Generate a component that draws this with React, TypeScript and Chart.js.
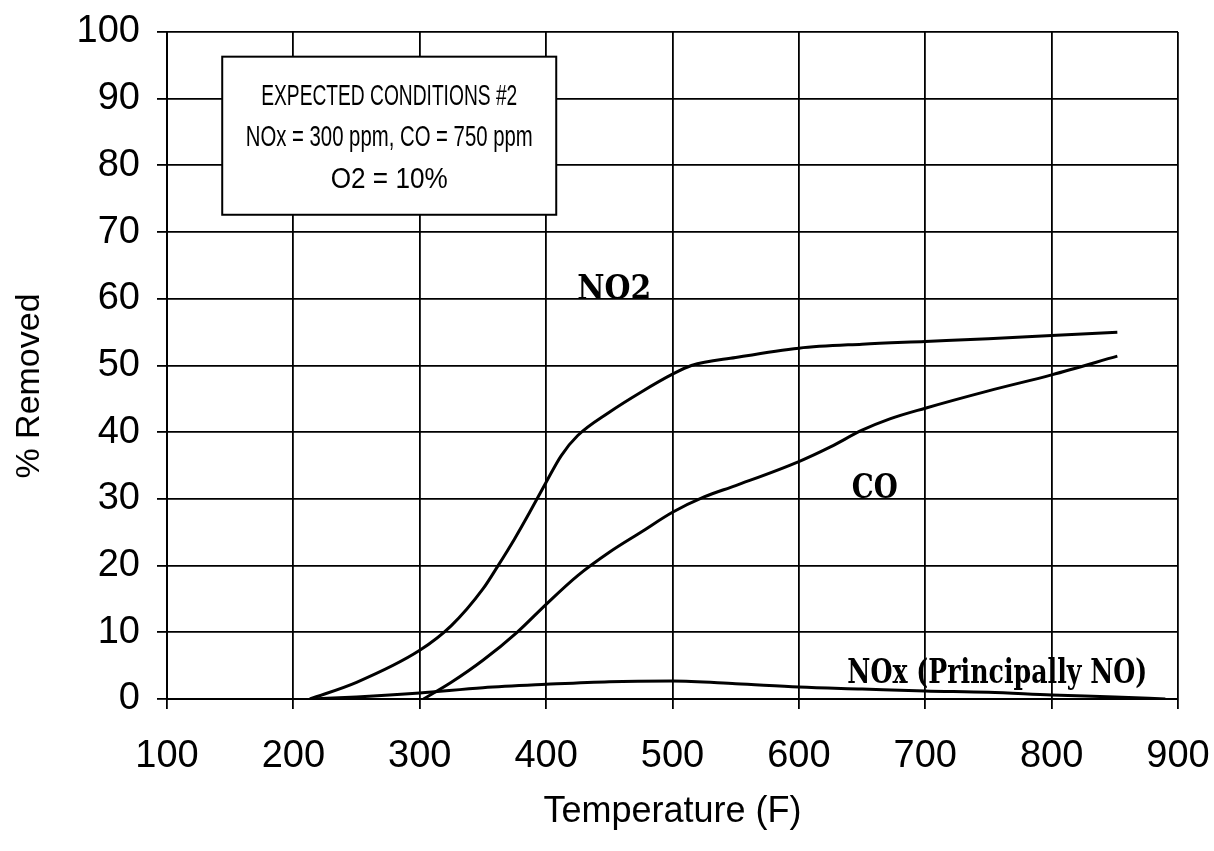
import React, { useEffect, useRef } from "react";
import { Chart, registerables } from "chart.js";

Chart.register(...registerables);

// ---- data ----
const no2Temps = [213, 250, 300, 325, 350, 362, 375, 387, 400, 412, 425, 450, 475, 500, 515, 550, 600, 650, 700, 750, 800, 852];
const no2Values = [0, 2.5, 7.3, 11, 16.5, 20, 24, 28, 32.5, 36.5, 39.5, 43, 46, 48.7, 50, 51.2, 52.6, 53.2, 53.6, 54, 54.5, 55];

const coTemps = [303, 325, 350, 377, 400, 425, 450, 475, 500, 525, 550, 600, 625, 650, 672, 700, 750, 800, 852];
const coValues = [0, 2.5, 5.8, 10, 14.2, 18.5, 22, 25, 28, 30.3, 32, 35.6, 37.8, 40.3, 42, 43.6, 46.2, 48.6, 51.4];

const noxTemps = [215, 250, 300, 350, 400, 450, 500, 550, 600, 650, 700, 750, 800, 850, 890];
const noxValues = [0, 0.3, 0.9, 1.7, 2.2, 2.6, 2.7, 2.3, 1.8, 1.5, 1.2, 1.0, 0.6, 0.3, 0];

const xTickMin = 100;
const xTickMax = 900;
const xTickStep = 100;
const yTickMin = 0;
const yTickMax = 100;
const yTickStep = 10;

const boxLines = ["EXPECTED CONDITIONS #2", "NOx = 300 ppm, CO = 750 ppm", "O2 = 10%"];
const curveLabels = ["NO2", "CO", "NOx (Principally NO)"];
const xTitle = "Temperature (F)";
const yTitle = "% Removed";

const toPoints = (xs: number[], ys: number[]) => xs.map((x, i) => ({ x, y: ys[i] }));

const SANS = "'Liberation Sans', Arial, sans-serif";
const SERIF = "'DejaVu Serif', 'Liberation Serif', serif";

const annotationPlugin = {
  id: "annotations",
  afterDatasetsDraw(chart: any) {
    const ctx = chart.ctx as CanvasRenderingContext2D;
    const xs = chart.scales.x;
    const ys = chart.scales.y;
    const px = (v: number) => xs.getPixelForValue(v);
    const py = (v: number) => ys.getPixelForValue(v);

    // condition box
    ctx.save();
    const bx1 = px(143.7), bx2 = px(408), by1 = py(96.3), by2 = py(72.6);
    ctx.fillStyle = "#fff";
    ctx.fillRect(bx1, by1, bx2 - bx1, by2 - by1);
    ctx.strokeStyle = "#000";
    ctx.lineWidth = 2;
    ctx.strokeRect(bx1, by1, bx2 - bx1, by2 - by1);
    ctx.fillStyle = "#000";
    ctx.font = `30px ${SANS}`;
    ctx.textAlign = "center";
    ctx.textBaseline = "middle";
    const cx = (bx1 + bx2) / 2;
    const lineY = [90.25, 84.1, 77.8];
    const lineW = [256, 287, 117];
    boxLines.forEach((t, i) => ctx.fillText(t, cx, py(lineY[i]), lineW[i]));

    // curve labels
    ctx.font = `bold 33px ${SERIF}`;
    ctx.textBaseline = "alphabetic";
    ctx.fillText(curveLabels[0], px(453.9), py(60), 74);
    ctx.fillText(curveLabels[1], px(660), py(30.1), 46);
    ctx.fillText(curveLabels[2], px(757), py(2.4), 300);

    // y axis title
    ctx.font = `34px ${SANS}`;
    ctx.textBaseline = "middle";
    ctx.translate(30, 386);
    ctx.rotate(-Math.PI / 2);
    ctx.fillText(yTitle, 0, 0);
    ctx.restore();
  },
};

export default function App() {
  const ref = useRef<HTMLCanvasElement | null>(null);

  useEffect(() => {
    document.body.style.margin = "0";
    if (!ref.current) return;
    const lineStyle = {
      borderColor: "#000",
      borderWidth: 3,
      pointRadius: 0,
      fill: false,
      tension: 0.4,
      cubicInterpolationMode: "monotone" as const,
    };
    const chart = new Chart(ref.current, {
      type: "line",
      data: {
        datasets: [
          { label: "NO2", data: toPoints(no2Temps, no2Values), ...lineStyle },
          { label: "CO", data: toPoints(coTemps, coValues), ...lineStyle },
          { label: "NOx", data: toPoints(noxTemps, noxValues), ...lineStyle },
        ],
      },
      options: {
        responsive: false,
        animation: false,
        layout: { padding: { top: 32, right: 36, left: 0, bottom: 0 } },
        plugins: { legend: { display: false }, tooltip: { enabled: false } },
        scales: {
          x: {
            type: "linear",
            min: xTickMin,
            max: xTickMax,
            ticks: {
              stepSize: xTickStep,
              color: "#000",
              font: { family: SANS, size: 38 },
              padding: 25,
              maxRotation: 0,
            },
            grid: { color: "#000", lineWidth: 1.8, tickLength: 10, drawTicks: true },
            border: { color: "#000", width: 2 },
            title: {
              display: true,
              text: xTitle,
              color: "#000",
              font: { family: SANS, size: 36 },
              padding: { top: 0, bottom: 17 },
            },
            afterFit: (s: any) => {
              s.height = 152;
              s.paddingLeft = 0;
              s.paddingRight = 0;
            },
          },
          y: {
            min: yTickMin,
            max: yTickMax,
            ticks: {
              stepSize: yTickStep,
              color: "#000",
              font: { family: SANS, size: 38 },
              padding: 17,
            },
            grid: { color: "#000", lineWidth: 1.8, tickLength: 10, drawTicks: true },
            border: { color: "#000", width: 2 },
            afterFit: (s: any) => {
              s.width = 167;
              s.paddingTop = 0;
              s.paddingBottom = 0;
            },
          },
        },
      },
      plugins: [annotationPlugin],
    });
    return () => chart.destroy();
  }, []);

  return (
    <div style={{ position: "absolute", left: 0, top: 0, width: 1214, height: 851, background: "#fff" }}>
      <canvas ref={ref} width={1214} height={851} />
    </div>
  );
}
